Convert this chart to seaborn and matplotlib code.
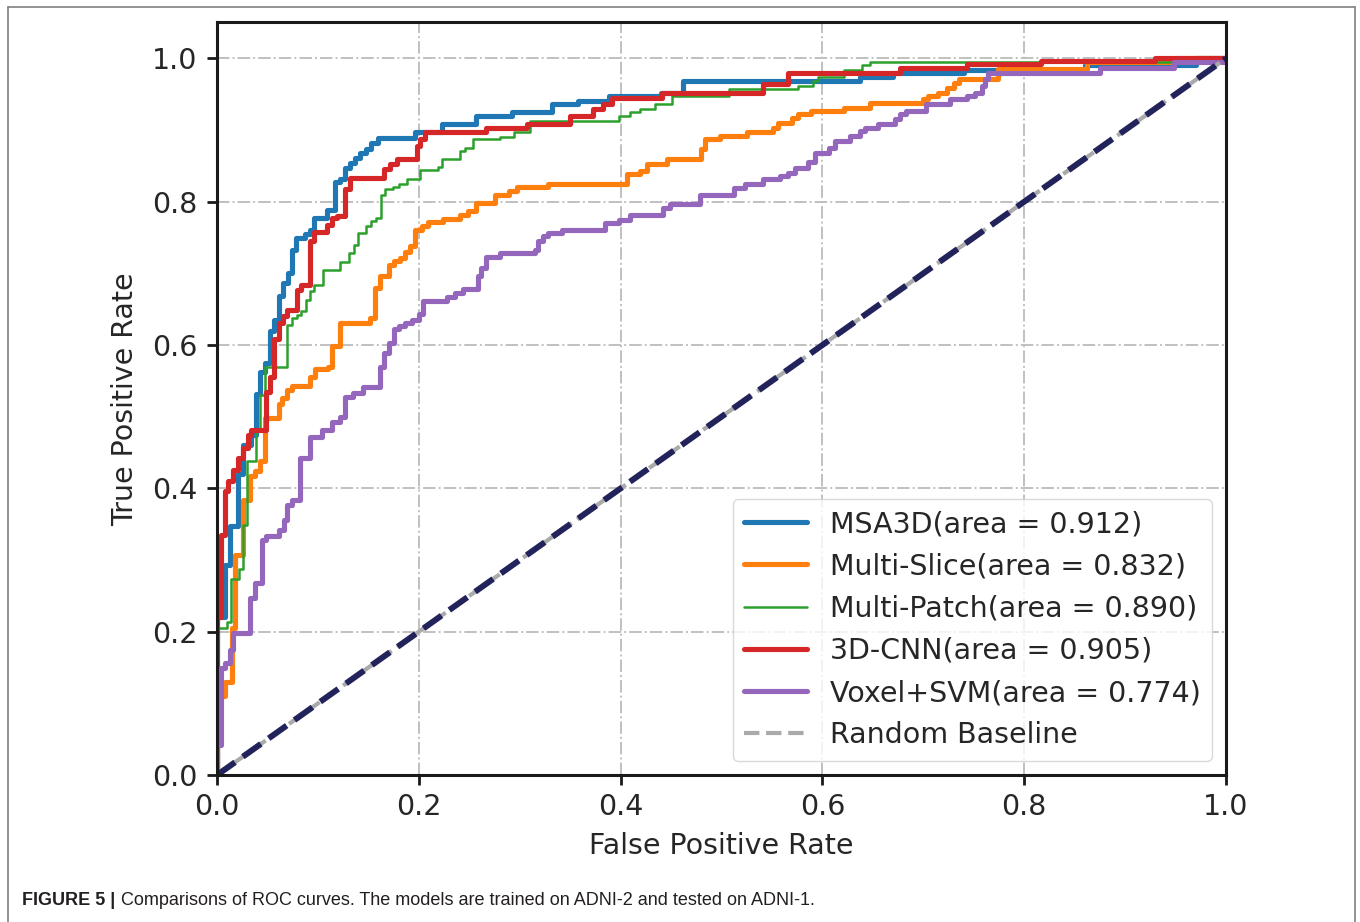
import matplotlib
matplotlib.use("Agg")
import matplotlib.pyplot as plt
from matplotlib.lines import Line2D
import seaborn as sns

# ROC corner points (fpr, tpr); drawn as post-steps
fpr_msa3d = [0, 0.0, 0.008, 0.013, 0.021, 0.026, 0.034, 0.039, 0.0426, 0.0476, 0.0525,
             0.0565, 0.061, 0.065, 0.070, 0.074, 0.078, 0.087, 0.092, 0.096, 0.109,
             0.117, 0.122, 0.127, 0.132, 0.137, 0.142, 0.148, 0.153, 0.160, 0.196,
             0.223, 0.257, 0.292, 0.332, 0.358, 0.388, 0.440, 0.462, 0.637, 0.670,
             0.740, 0.860, 0.970, 1.0]
tpr_msa3d = [0, 0.22, 0.293, 0.347, 0.420, 0.460, 0.475, 0.531, 0.563, 0.575, 0.619,
             0.635, 0.668, 0.687, 0.700, 0.733, 0.749, 0.755, 0.761, 0.777, 0.789,
             0.827, 0.831, 0.847, 0.854, 0.861, 0.868, 0.874, 0.882, 0.889, 0.897,
             0.909, 0.919, 0.925, 0.936, 0.941, 0.948, 0.952, 0.968, 0.974, 0.979,
             0.984, 0.990, 1.0, 1.0]

fpr_slice = [0, 0.0, 0.008, 0.0145, 0.018, 0.026, 0.033, 0.0377, 0.0426, 0.0476, 0.061,
             0.064, 0.0697, 0.074, 0.092, 0.097, 0.110, 0.114, 0.122, 0.152, 0.157,
             0.1615, 0.170, 0.175, 0.181, 0.186, 0.191, 0.196, 0.203, 0.209, 0.224,
             0.241, 0.249, 0.257, 0.2755, 0.289, 0.297, 0.328, 0.406, 0.419, 0.426,
             0.446, 0.480, 0.484, 0.4985, 0.525, 0.551, 0.556, 0.570, 0.576, 0.589,
             0.621, 0.647, 0.700, 0.705, 0.715, 0.723, 0.730, 0.735, 0.774, 0.862,
             0.950, 1.0]
tpr_slice = [0, 0.11, 0.130, 0.205, 0.307, 0.384, 0.4166, 0.4236, 0.4376, 0.498, 0.517,
             0.526, 0.537, 0.543, 0.555, 0.566, 0.570, 0.598, 0.631, 0.638, 0.680,
             0.696, 0.712, 0.717, 0.722, 0.730, 0.738, 0.761, 0.766, 0.771, 0.776,
             0.782, 0.787, 0.798, 0.810, 0.815, 0.821, 0.825, 0.838, 0.843, 0.852,
             0.859, 0.873, 0.887, 0.891, 0.897, 0.903, 0.910, 0.917, 0.922, 0.926,
             0.931, 0.937, 0.943, 0.948, 0.952, 0.959, 0.966, 0.971, 0.985, 0.995,
             1.0, 1.0]

fpr_patch = [0, 0.0, 0.0096, 0.0135, 0.022, 0.026, 0.030, 0.039, 0.0426, 0.048, 0.0697,
             0.074, 0.079, 0.083, 0.088, 0.092, 0.096, 0.105, 0.122, 0.131, 0.136,
             0.140, 0.148, 0.153, 0.158, 0.162, 0.1665, 0.174, 0.180, 0.188, 0.201,
             0.219, 0.223, 0.241, 0.246, 0.254, 0.280, 0.294, 0.310, 0.398, 0.409,
             0.419, 0.434, 0.451, 0.507, 0.576, 0.591, 0.596, 0.621, 0.639, 0.647,
             0.947, 1.0]
tpr_patch = [0, 0.205, 0.213, 0.273, 0.288, 0.349, 0.4376, 0.482, 0.530, 0.570, 0.6285,
             0.638, 0.642, 0.647, 0.663, 0.675, 0.684, 0.705, 0.7155, 0.728, 0.739,
             0.756, 0.766, 0.773, 0.777, 0.810, 0.817, 0.821, 0.825, 0.832, 0.844,
             0.848, 0.859, 0.871, 0.875, 0.887, 0.8905, 0.897, 0.913, 0.919, 0.925,
             0.930, 0.936, 0.947, 0.957, 0.962, 0.968, 0.974, 0.984, 0.991, 0.995,
             1.0, 1.0]

fpr_cnn = [0, 0.0, 0.004, 0.008, 0.011, 0.016, 0.021, 0.026, 0.031, 0.034, 0.049,
           0.0525, 0.0565, 0.061, 0.065, 0.0697, 0.079, 0.083, 0.092, 0.096, 0.109,
           0.114, 0.119, 0.127, 0.132, 0.165, 0.171, 0.178, 0.198, 0.201, 0.206,
           0.267, 0.307, 0.350, 0.373, 0.383, 0.391, 0.441, 0.541, 0.566, 0.677,
           0.743, 0.817, 0.930, 1.0]
tpr_cnn = [0, 0.22, 0.335, 0.396, 0.410, 0.426, 0.442, 0.456, 0.475, 0.482, 0.535,
           0.556, 0.608, 0.631, 0.640, 0.649, 0.677, 0.684, 0.745, 0.757, 0.768,
           0.777, 0.780, 0.817, 0.833, 0.845, 0.852, 0.859, 0.878, 0.887, 0.897,
           0.903, 0.908, 0.919, 0.929, 0.936, 0.945, 0.952, 0.964, 0.979, 0.986,
           0.992, 0.996, 1.0, 1.0]

fpr_svm = [0, 0.0, 0.004, 0.008, 0.013, 0.016, 0.0327, 0.0377, 0.0443, 0.049, 0.061,
           0.066, 0.0697, 0.074, 0.082, 0.092, 0.104, 0.114, 0.122, 0.127, 0.135,
           0.145, 0.1615, 0.165, 0.170, 0.175, 0.180, 0.186, 0.193, 0.200, 0.2045,
           0.2276, 0.236, 0.244, 0.259, 0.262, 0.267, 0.280, 0.315, 0.318, 0.323,
           0.328, 0.3416, 0.3845, 0.398, 0.409, 0.442, 0.449, 0.479, 0.512, 0.523,
           0.541, 0.558, 0.566, 0.573, 0.586, 0.593, 0.606, 0.6125, 0.627, 0.637,
           0.642, 0.655, 0.672, 0.677, 0.683, 0.703, 0.7265, 0.743, 0.751, 0.758,
           0.761, 0.764, 0.875, 0.948, 1.0]
tpr_svm = [0, 0.042, 0.149, 0.156, 0.1746, 0.198, 0.247, 0.268, 0.328, 0.334, 0.342,
           0.356, 0.377, 0.384, 0.442, 0.472, 0.482, 0.493, 0.500, 0.528, 0.533,
           0.542, 0.570, 0.589, 0.603, 0.622, 0.626, 0.631, 0.635, 0.643, 0.662,
           0.667, 0.673, 0.678, 0.696, 0.7075, 0.723, 0.728, 0.733, 0.745, 0.752,
           0.7556, 0.760, 0.770, 0.775, 0.782, 0.791, 0.797, 0.810, 0.819, 0.824,
           0.831, 0.836, 0.8405, 0.847, 0.855, 0.868, 0.875, 0.8845, 0.8915, 0.898,
           0.903, 0.908, 0.915, 0.922, 0.926, 0.936, 0.943, 0.947, 0.952, 0.961,
           0.971, 0.980, 0.987, 0.995, 1.0]

labels = ["MSA3D(area = 0.912)", "Multi-Slice(area = 0.832)",
          "Multi-Patch(area = 0.890)", "3D-CNN(area = 0.905)",
          "Voxel+SVM(area = 0.774)"]
baseline = [0, 1]

curves = [(fpr_msa3d, tpr_msa3d), (fpr_slice, tpr_slice), (fpr_patch, tpr_patch),
          (fpr_cnn, tpr_cnn), (fpr_svm, tpr_svm)]
colors = ["#1f77b4", "#ff7f0e", "#2ca02c", "#d62728", "#9467bd"]
widths = [3.7, 3.7, 1.8, 3.7, 3.7]

sns.set_style("ticks")
plt.rcParams["font.family"] = ["DejaVu Sans"]
plt.rcParams["text.color"] = "#262626"

fig = plt.figure(figsize=(13.6, 9.22), dpi=100)
ax = fig.add_axes([0.1596, 0.1594, 0.7419, 0.8162])

for (fx, ty), lab, c, w in zip(curves, labels, colors, widths):
    sns.lineplot(x=fx, y=ty, ax=ax, estimator=None, sort=False,
                 drawstyle="steps-post", color=c, lw=w, label=lab)

sns.lineplot(x=baseline, y=baseline, ax=ax, estimator=None, sort=False,
             color="#aaaaaa", lw=3.0, ls="--", label="Random Baseline")
sns.lineplot(x=baseline, y=baseline, ax=ax, estimator=None, sort=False,
             color="#23235b", lw=4.3, ls="--")

ax.set_xlim(0, 1.0)
ax.set_ylim(0, 1.05)
ax.set_xticks([0, 0.2, 0.4, 0.6, 0.8, 1.0])
ax.set_yticks([0, 0.2, 0.4, 0.6, 0.8, 1.0])
ax.grid(True, ls="-.", color="#c0c0c0", lw=1.4)
ax.set_axisbelow(True)
for s in ax.spines.values():
    s.set_linewidth(2.2)
    s.set_color("#1a1a1a")
ax.tick_params(axis="both", labelsize=20.5, length=7, width=2.0, color="#1a1a1a",
               labelcolor="#262626")
ax.tick_params(axis="x", pad=6)
ax.tick_params(axis="y", pad=7)
ax.set_xlabel("False Positive Rate", fontsize=20.5, labelpad=8, color="#262626")
ax.set_ylabel("True Positive Rate", fontsize=20.5, labelpad=9, color="#262626")

ax.legend(loc="lower right", fontsize=20.5, frameon=True, framealpha=0.8,
          edgecolor="#d0d0d0", fancybox=True, handlelength=2.2)

# outer frame of the published figure
frame_kw = dict(color="#808080", lw=1.2, transform=fig.transFigure)
fig.add_artist(Line2D([0.0059, 0.0059], [0.0, 0.9924], **frame_kw))
fig.add_artist(Line2D([0.0059, 0.9963], [0.9924, 0.9924], **frame_kw))
fig.add_artist(Line2D([0.9963, 0.9963], [0.0, 0.9924], **frame_kw))

# caption
cap_family = ["Liberation Sans Narrow", "Liberation Sans", "DejaVu Sans"]
t1 = fig.text(22 / 1360, 1 - 900 / 922, "FIGURE 5 |", fontsize=13, weight="bold",
              family=cap_family, va="center", ha="left", color="#231f20")
fig.canvas.draw()
bb = t1.get_window_extent()
fig.text((bb.x1 + 6) / 1360, 1 - 900 / 922,
         "Comparisons of ROC curves. The models are trained on ADNI-2 and tested on ADNI-1.",
         fontsize=13, family=cap_family, va="center", ha="left", color="#231f20")

fig.savefig("out.png", dpi=100)
